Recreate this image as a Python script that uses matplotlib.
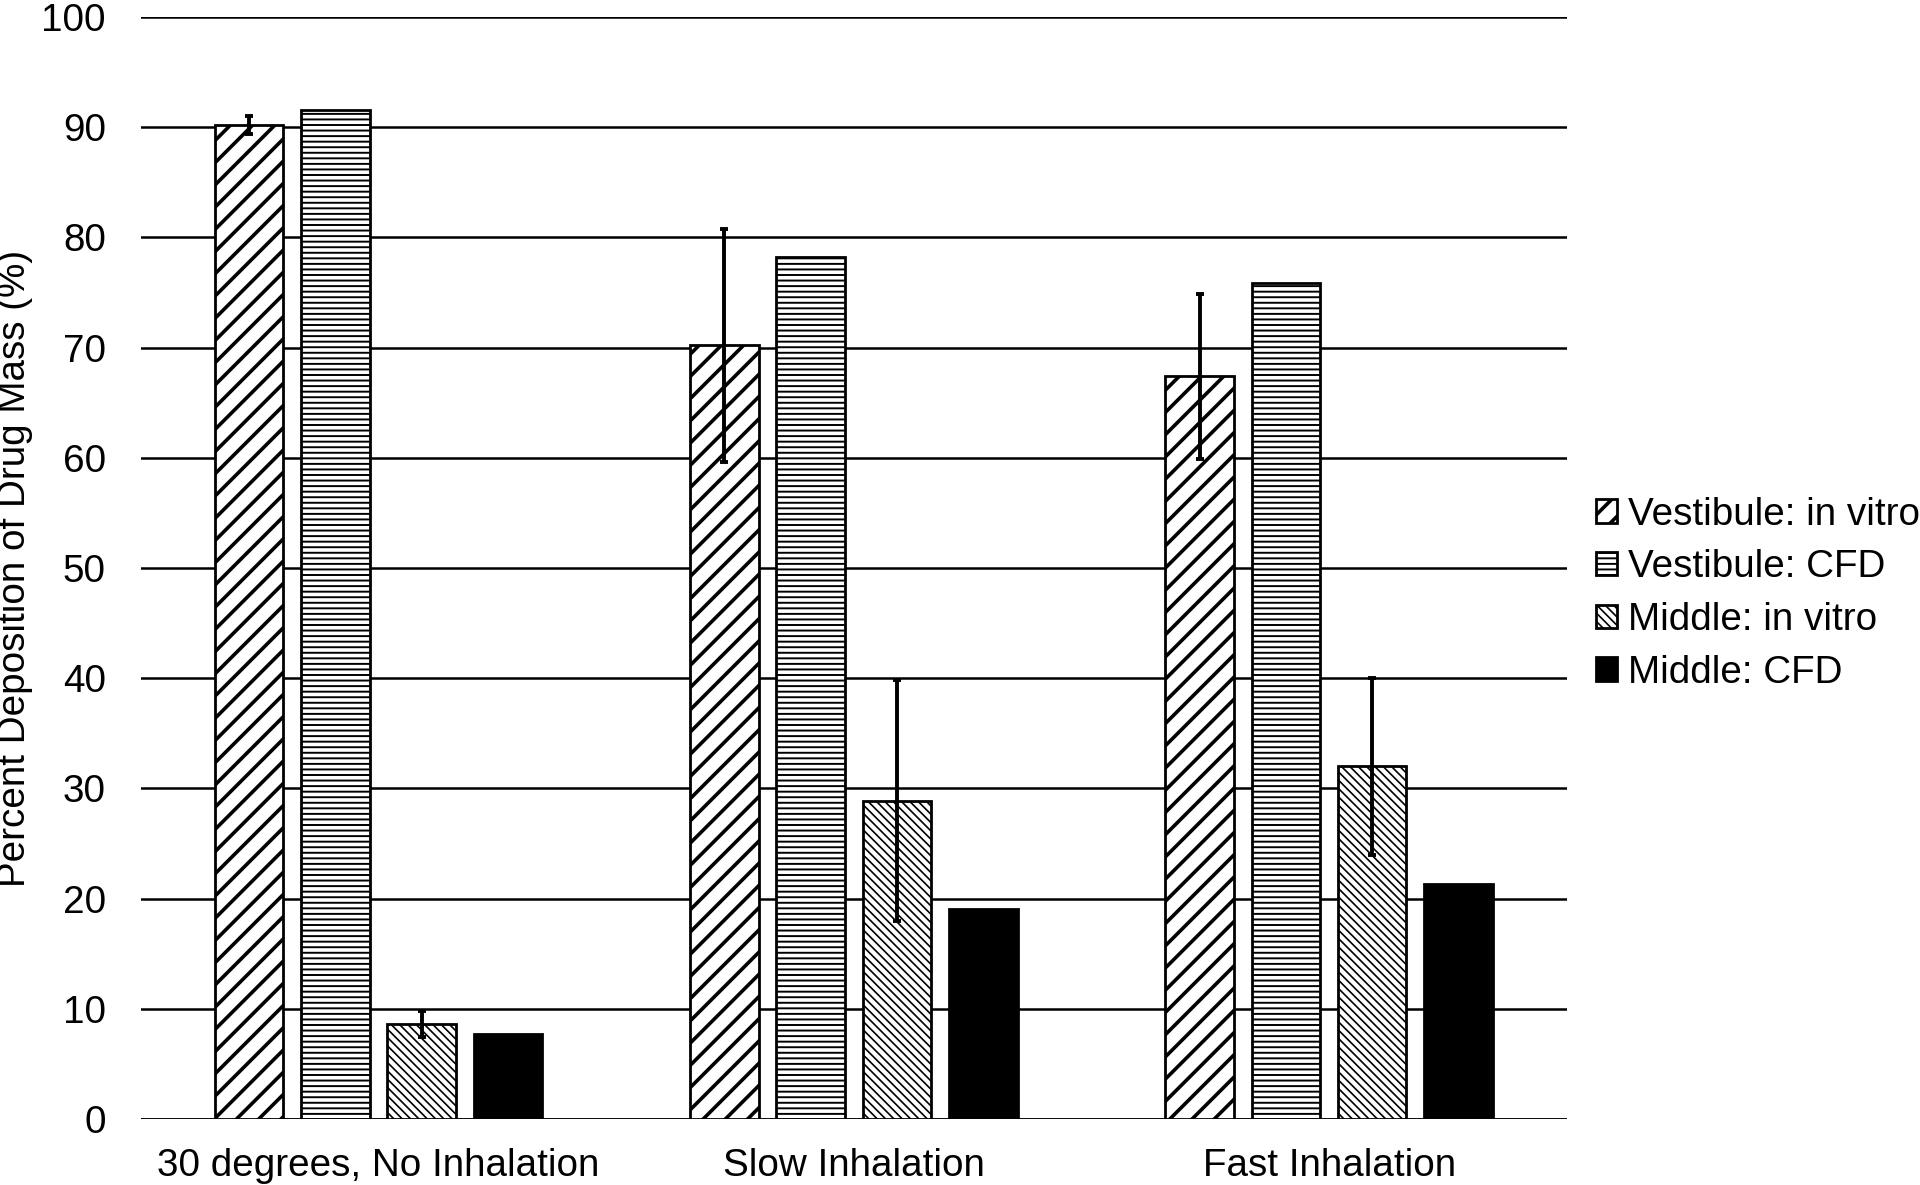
import matplotlib.pyplot as plt
import numpy as np

plt.rcParams['font.family'] = ['Liberation Sans', 'DejaVu Sans']

categories = ['30 degrees, No Inhalation', 'Slow Inhalation', 'Fast Inhalation']
series = ['Vestibule: in vitro', 'Vestibule: CFD', 'Middle: in vitro', 'Middle: CFD']
vest_vitro = [90.2, 70.2, 67.4]
vest_vitro_err = [0.8, 10.6, 7.5]
vest_cfd = [91.6, 78.2, 75.9]
mid_vitro = [8.6, 28.9, 32.0]
mid_vitro_err = [1.2, 10.9, 8.0]
mid_cfd = [7.7, 19.1, 21.3]

values = [vest_vitro, vest_cfd, mid_vitro, mid_cfd]
errors = [vest_vitro_err, None, mid_vitro_err, None]
hatches = ['///', '------', '\\\\\\\\\\\\\\\\', None]
hatch_lw = [1.3, 0.7, 0.6, 0.7]
faces = ['white', 'white', 'white', 'black']

fig = plt.figure(figsize=(9.6, 5.925), dpi=200)
ax = fig.add_axes([0.0734, 0.0557, 0.7426, 0.93])

x = np.arange(len(categories))
step = 0.1816
width = 0.144
for i, (vals, err) in enumerate(zip(values, errors)):
    pos = x + (i - 1.5) * step
    with plt.rc_context({'hatch.linewidth': hatch_lw[i]}):
        bars = ax.bar(pos, vals, width, color=faces[i], edgecolor='black', hatch=hatches[i],
                      linewidth=1.0, label=series[i], zorder=3)
    for b in bars:
        if hasattr(b, 'set_hatch_linewidth'):
            b.set_hatch_linewidth(hatch_lw[i])
    if err is not None:
        ax.errorbar(pos, vals, yerr=err, fmt='none', ecolor='black',
                    elinewidth=1.4, capsize=1.5, capthick=1.4, zorder=4)

ax.set_xlim(-0.5, 2.5)
ax.set_ylim(0, 100)
ax.set_yticks(range(0, 101, 10))
ax.set_xticks(x)
ax.set_xticklabels(categories)
ax.yaxis.grid(True, color='black', linewidth=0.9, zorder=0)
ax.set_axisbelow(True)
for s in ax.spines.values():
    s.set_visible(False)
ax.axhline(0, color='black', linewidth=0.9, zorder=2)
ax.tick_params(axis='both', length=0, labelsize=13.9, colors='black')
ax.tick_params(axis='y', pad=12.6)
ax.tick_params(axis='x', pad=10.5)
ax.set_ylabel('Percent Deposition of Drug Mass (%)', fontsize=13.9)
ax.yaxis.set_label_coords(-0.076, 0.5)

leg = ax.legend(loc='center left', bbox_to_anchor=(0.831, 0.499), bbox_transform=fig.transFigure,
                frameon=False, fontsize=13.9, handlelength=0.55, handleheight=0.55,
                handletextpad=0.3, labelspacing=0.43, borderpad=0, borderaxespad=0)
for h, lw in zip(leg.get_patches(), hatch_lw):
    if hasattr(h, 'set_hatch_linewidth'):
        h.set_hatch_linewidth(lw)

fig.savefig('out.png', dpi=200)
